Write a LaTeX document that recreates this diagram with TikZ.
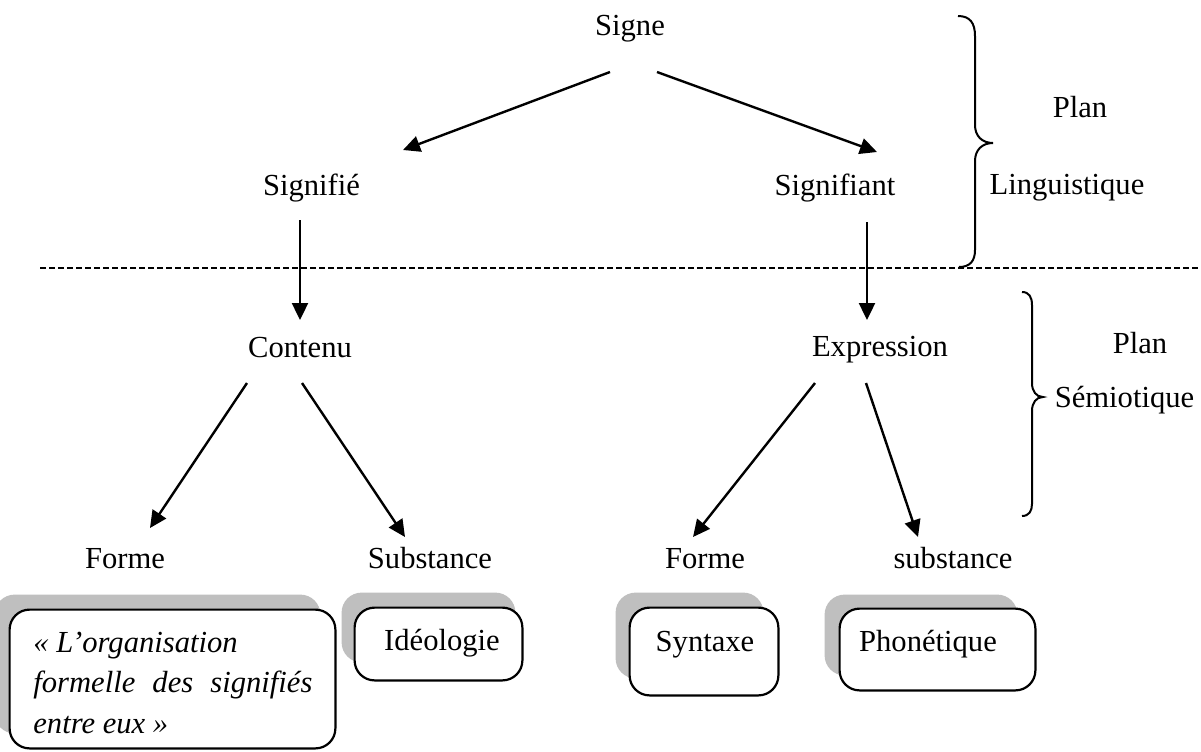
\documentclass[tikz,border=0pt]{standalone}
\usepackage{fontspec}
\setmainfont{Liberation Serif}
\usetikzlibrary{arrows.meta}
\definecolor{shadowgray}{RGB}{191,191,191}
\begin{document}
\begin{tikzpicture}[x=0.5pt,y=-0.5pt,
  lbl/.style={font=\fontsize{15.3}{20.3}\selectfont, inner sep=0pt, anchor=base},
  itl/.style={font=\fontsize{15.3}{20.3}\selectfont\itshape, inner sep=0pt, anchor=base west},
  arr/.style={line width=1.2pt, -{Triangle[length=8.5pt,width=8pt]}},
  boxnode/.style={draw, line width=1.1pt, rounded corners=10pt, fill=white, inner sep=0pt},
  shadebox/.style={fill=shadowgray, rounded corners=10pt},
  bracepath/.style={line width=1pt},
  dashline/.style={line width=0.8pt, dash pattern=on 3pt off 1.5pt}]
\useasboundingbox (0,0) rectangle (1201,751);

% labels
\node[lbl] (signe) at (630,35) {Signe};
\node[lbl] (signifie) at (311.5,195) {Signifié};
\node[lbl] (signifiant) at (835,195) {Signifiant};
\node[lbl] (contenu) at (300,357) {Contenu};
\node[lbl] (expression) at (880,356) {Expression};
\node[lbl] (formeA) at (125,568) {Forme};
\node[lbl] (substA) at (430,568) {Substance};
\node[lbl] (formeB) at (705,568) {Forme};
\node[lbl] (substB) at (953,568) {substance};
\node[lbl] (plan1) at (1080,117) {Plan};
\node[lbl] (ling) at (1067,194) {Linguistique};
\node[lbl] (plan2) at (1140,353) {Plan};
\node[lbl] (semio) at (1124.5,407) {Sémiotique};

% dashed separator
\coordinate (dl) at (40,268);
\coordinate (dr) at (1201,268);
\draw[dashline] (dl) -- (dr);

% braces
\draw[bracepath] (958,16) .. controls (970,16) and (975,23) .. (975,36) -- (975,125)
  .. controls (975,136) and (982,143) .. (993,143)
  .. controls (982,143) and (975,150) .. (975,161) -- (975,250)
  .. controls (975,261) and (970,267) .. (959,267);
\draw[bracepath] (1022,292) .. controls (1029,292) and (1032,297) .. (1032,305) -- (1032,383)
  .. controls (1032,391) and (1036,397) .. (1043,397)
  .. controls (1036,397) and (1032,403) .. (1032,411) -- (1032,504)
  .. controls (1032,511) and (1029,516) .. (1022,516);

% arrows
\draw[arr] ([shift={(-20,37)}]signe.base) -- ([shift={(91.5,-45)}]signifie.base);
\draw[arr] ([shift={(27,37)}]signe.base) -- ([shift={(42,-43)}]signifiant.base);
\draw[arr] ([shift={(-11.5,25)}]signifie.base) -- ([shift={(0,-37)}]contenu.base);
\draw[arr] ([shift={(32,27)}]signifiant.base) -- ([shift={(-13,-36)}]expression.base);
\draw[arr] ([shift={(-53,26)}]contenu.base) -- ([shift={(25,-40)}]formeA.base);
\draw[arr] ([shift={(2,26)}]contenu.base) -- ([shift={(-25,-31)}]substA.base);
\draw[arr] ([shift={(-65,27)}]expression.base) -- ([shift={(-12,-31)}]formeB.base);
\draw[arr] ([shift={(-14,27)}]expression.base) -- ([shift={(-35,-31)}]substB.base);

% box frames (named, for anchors)
\path (172.5,679) node[minimum width=162.5pt, minimum height=69pt, inner sep=0pt] (b1) {};
\path (438.5,644) node[minimum width=83.5pt, minimum height=36pt, inner sep=0pt] (b2) {};
\path (704,651.5) node[minimum width=74pt, minimum height=43.5pt, inner sep=0pt] (b3) {};
\path (937.5,649.5) node[minimum width=97.5pt, minimum height=40.5pt, inner sep=0pt] (b4) {};

\fill[shadebox] ([shift={(-15,-15)}]b1.north west) rectangle ([shift={(-15,-15)}]b1.south east);
\fill[shadebox] ([shift={(-13,-15)}]b2.north west) rectangle ([shift={(-7,-18)}]b2.south east);
\fill[shadebox] ([shift={(-14,-15)}]b3.north west) rectangle ([shift={(-15,-17)}]b3.south east);
\fill[shadebox] ([shift={(-15,-14)}]b4.north west) rectangle ([shift={(-18,-15)}]b4.south east);

\draw[boxnode] (b1.north west) rectangle (b1.south east);
\draw[boxnode] (b2.north west) rectangle (b2.south east);
\draw[boxnode] (b3.north west) rectangle (b3.south east);
\draw[boxnode] (b4.north west) rectangle (b4.south east);

% box texts
\node[itl] (t1) at (33,652) {« L’organisation};
\node[itl] (t2) at (33,692) {\makebox[139.5pt][s]{formelle des signifiés}};
\node[itl] (t3) at (33,733) {entre eux »};
\node[lbl] (ideo) at (442,650) {Idéologie};
\node[lbl] (synt) at (705,651) {Syntaxe};
\node[lbl] (phon) at (928,651) {Phonétique};
\end{tikzpicture}
\end{document}
